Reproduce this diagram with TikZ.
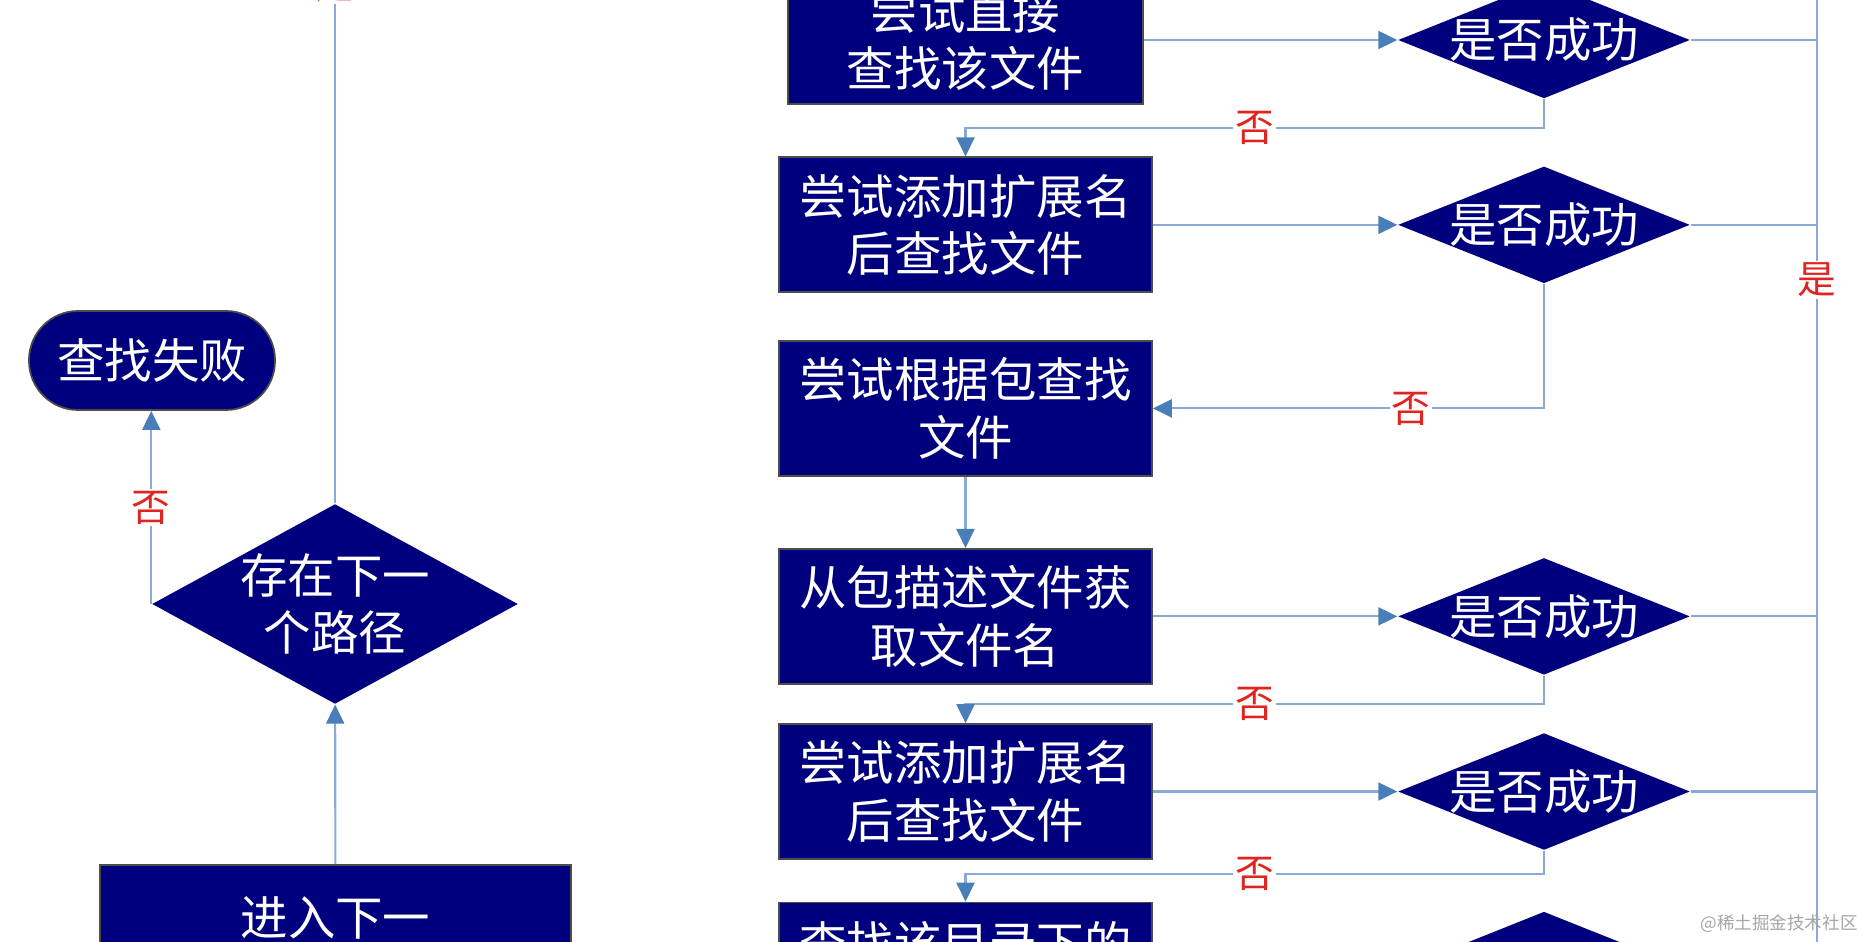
\documentclass[tikz,border=0pt]{standalone}
\usepackage{fontspec}
\usepackage{xcolor}
\setmainfont{Noto Sans CJK SC}
\usetikzlibrary{arrows.meta,positioning,shapes.geometric}
\definecolor{navy}{HTML}{00007E}
\definecolor{wire}{HTML}{8AA8D8}
\definecolor{head}{HTML}{4A7EBB}
\definecolor{verdict}{HTML}{E0241F}
\definecolor{mark}{HTML}{A6A6A6}
\tikzset{
  block/.style={draw=black!70, fill=navy, text=white, line width=0.5pt,
                align=center, inner sep=0pt, minimum width=3.73cm,
                minimum height=1.35cm, font=\fontsize{13.5pt}{16.4pt}\selectfont},
  choice/.style={diamond, fill=navy, text=white, align=center, aspect=2.5,
                 inner sep=-1.5pt, minimum width=2.92cm, minimum height=1.17cm,
                 font=\fontsize{13.5pt}{16.4pt}\selectfont},
  terminal/.style={draw=black!70, fill=navy, text=white, line width=0.5pt,
                   rounded corners=0.49cm, inner sep=0pt, minimum width=2.46cm,
                   minimum height=0.99cm, font=\fontsize{13.5pt}{16.4pt}\selectfont},
  link/.style={draw=wire, line width=0.6pt},
  arrow/.style={link, -{Triangle[length=1.9mm, width=1.8mm, color=head]}},
  answer/.style={fill=white, text=verdict, inner sep=0.6pt,
                 font=\fontsize{11pt}{12pt}\selectfont}
}
\begin{document}
\begin{tikzpicture}
    \useasboundingbox (0,0) rectangle (18.68,-9.42);
    \fill[white] (0,0) rectangle (18.68,-9.42);

    % search column
    \node[block, minimum width=3.55cm, minimum height=1.28cm] (try1) at (9.655,-0.40) {尝试直接\\查找该文件};
    \node[block, below=0.516cm of try1] (try2) {尝试添加扩展名\\后查找文件};
    \node[block, below=0.468cm of try2] (try3) {尝试根据包查找\\文件};
    \node[block, below=0.712cm of try3] (try4) {从包描述文件获\\取文件名};
    \node[block, below=0.384cm of try4] (try5) {尝试添加扩展名\\后查找文件};
    \node[block, below=0.418cm of try5] (try6) {查找该目录下的\\\mbox{}};

    % success checks
    \coordinate (rail) at (15.44,0);
    \node[choice] (ok1) at (rail |- try1) {是否成功};
    \node[choice] (ok2) at (rail |- try2) {是否成功};
    \node[choice] (ok4) at (rail |- try4) {是否成功};
    \node[choice] (ok5) at (rail |- try5) {是否成功};
    \node[choice] (ok6) at (rail |- try6) {};
    \draw[arrow] (try1.east |- ok1) -- (ok1.west);
    \draw[arrow] (try2.east |- ok2) -- (ok2.west);
    \draw[arrow] (try4.east |- ok4) -- (ok4.west);
    \draw[arrow] (try5.east |- ok5) -- (ok5.west);

    % failed branches
    \draw[arrow] (ok1.south) -- ++(0,-0.29) -| node[answer, pos=0.25] {否} (try2.north);
    \draw[arrow] (ok2.south) |- node[answer, pos=0.67] {否} (try3.east);
    \draw[arrow] (try3) -- (try4);
    \draw[arrow] (ok4.south) -- ++(0,-0.28) -| node[answer, pos=0.25] {否} (try5.north);
    \draw[arrow] (ok5.south) -- ++(0,-0.23) -| node[answer, pos=0.25] {否} (try6.north);

    % found rail
    \coordinate (railtop) at (18.17,0.3);
    \coordinate (railend) at (18.17,-9.8);
    \draw[link] (ok1.east) -- (ok1.east -| railtop);
    \draw[link] (ok2.east) -- (ok2.east -| railtop);
    \draw[link] (ok4.east) -- (ok4.east -| railtop);
    \draw[link] (ok5.east) -- (ok5.east -| railtop);
    \draw[link] (railtop) -- node[answer, pos=0.307] {是} (railend);

    % path loop
    \node[terminal] (fail) at (1.52,-3.605) {查找失败};
    \node[choice, aspect=1.83, inner sep=-3pt, minimum width=3.66cm,
          minimum height=2cm] (more) at (3.35,-6.04) {存在下一\\个路径};
    \node[block, minimum width=4.71cm, minimum height=1.59cm] (enter) at (3.355,-9.445) {进入下一\\\mbox{}};
    \draw[arrow] (enter) -- (more);
    \draw[arrow] (more.west) -- node[answer] {否} (more.west |- fail.south);
    \coordinate (back) at (3.35,0.4);
    \draw[link] (more.north) -- node[answer, pos=0.954] {是} (back);

    \node[text=mark, font=\fontsize{5pt}{6pt}\selectfont, anchor=east] (credit) at (18.70,-9.24) {@稀土掘金技术社区};
\end{tikzpicture}
\end{document}
